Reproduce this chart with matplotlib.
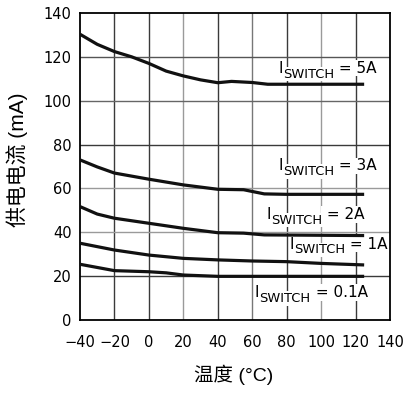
import matplotlib
matplotlib.use("Agg")
import matplotlib.pyplot as plt

# ---- data ----
t_5a = [-40, -30, -20, -10, 0, 10, 20, 30, 40, 48, 60, 69, 80, 100, 125]
i_5a = [130.3, 125.7, 122.4, 120.0, 117.0, 113.5, 111.3, 109.5, 108.2, 108.8, 108.3, 107.5, 107.5, 107.5, 107.5]
t_3a = [-40, -30, -20, 0, 20, 40, 55, 67, 80, 125]
i_3a = [73.0, 69.8, 67.0, 64.2, 61.6, 59.6, 59.4, 57.5, 57.3, 57.3]
t_2a = [-40, -30, -20, 0, 20, 40, 55, 67, 125]
i_2a = [51.7, 48.3, 46.4, 44.1, 41.8, 39.8, 39.6, 38.8, 38.5]
t_1a = [-40, -20, 0, 20, 40, 60, 80, 100, 125]
i_1a = [35.0, 31.9, 29.6, 28.1, 27.4, 26.9, 26.6, 25.8, 25.1]
t_01a = [-40, -20, 0, 10, 20, 40, 125]
i_01a = [25.4, 22.5, 22.0, 21.5, 20.5, 19.9, 19.9]

series = [(t_5a, i_5a), (t_3a, i_3a), (t_2a, i_2a), (t_1a, i_1a), (t_01a, i_01a)]
label_values = ["5A", "3A", "2A", "1A", "0.1A"]
label_pos = [(75, 111.4), (75, 66.9), (68.2, 44.8), (81.7, 31.2), (61.4, 9.1)]

x_ticks = [-40, -20, 0, 20, 40, 60, 80, 100, 120, 140]
y_ticks = [0, 20, 40, 60, 80, 100, 120, 140]
xlabel = "温度 (°C)"
ylabel = "供电电流 (mA)"

fig = plt.figure(figsize=(4.07, 3.97), dpi=100)
ax = fig.add_axes([0.1966, 0.194, 0.7616, 0.7733])
ax.set_xlim(-40, 140)
ax.set_ylim(0, 140)
ax.set_xticks(x_ticks)
ax.set_yticks(y_ticks)
ax.set_xticklabels([str(v).replace("-", "\u2212") for v in x_ticks])
ax.tick_params(length=0, labelsize=10.5)
ax.tick_params(axis="x", pad=11)
ax.tick_params(axis="y", pad=6)

dark = "#3a3a3a"
grey = "#9a9a9a"
vcol = {-20: dark, 0: dark, 20: grey, 40: dark, 60: "#777777", 80: dark, 100: grey, 120: dark}
hcol = {20: dark, 40: grey, 60: grey, 80: dark, 100: "#666666", 120: "#555555"}
for xv, c in vcol.items():
    ax.axvline(xv, color=c, lw=1.0, zorder=0.5)
for yv, c in hcol.items():
    ax.axhline(yv, color=c, lw=1.0, zorder=0.5)

for sp in ax.spines.values():
    sp.set_color("black")
    sp.set_linewidth(1.3)

for t, i in series:
    ax.plot(t, i, color="#111111", lw=2.3, solid_capstyle="butt", zorder=3)

fs = 11
box = dict(facecolor="white", edgecolor="none", pad=0.6)
for (x, y), v in zip(label_pos, label_values):
    t1 = ax.text(x, y, "I", fontsize=fs, ha="left", va="bottom", zorder=2, bbox=box)
    t2 = ax.annotate("SWITCH", xy=(1, 0), xycoords=t1, xytext=(0.2, -3.5),
                     textcoords="offset points", fontsize=fs * 0.85, ha="left", va="bottom",
                     zorder=2, bbox=box)
    ax.annotate(" = " + v, xy=(1, 0), xycoords=(t2, t1), xytext=(0, 0),
                textcoords="offset points", fontsize=fs, ha="left", va="bottom",
                zorder=2, bbox=box)

lab_fam = ["Liberation Sans", "Noto Sans CJK SC"]
fig.text(0.574, 0.057, xlabel, fontsize=14, ha="center", va="center", family=lab_fam)
fig.text(0.043, 0.597, ylabel, fontsize=15, ha="center", va="center", rotation=90,
         family=lab_fam)

fig.savefig("out.png", dpi=100)
